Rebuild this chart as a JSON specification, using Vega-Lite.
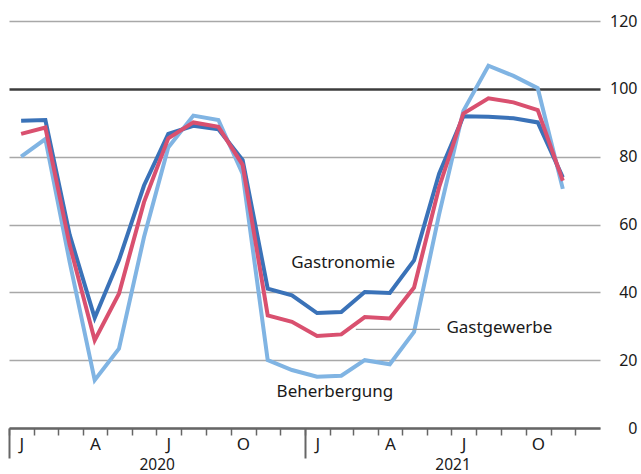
{
  "$schema": "https://vega.github.io/schema/vega-lite/v6.json",
  "width": 591,
  "height": 407,
  "autosize": {"type": "none"},
  "padding": {"left": 9, "top": 21, "right": 41, "bottom": 46},
  "background": "white",
  "config": {"view": {"stroke": null}, "font": "Noto Sans"},
  "datasets": {
    "index": [
      {"date": "2020-01-16", "Gastronomie": 90.6, "Gastgewerbe": 86.7, "Beherbergung": 80.0},
      {"date": "2020-02-15", "Gastronomie": 90.8, "Gastgewerbe": 88.6, "Beherbergung": 85.2},
      {"date": "2020-03-16", "Gastronomie": 57.0, "Gastgewerbe": 54.0, "Beherbergung": 49.0},
      {"date": "2020-04-16", "Gastronomie": 32.5, "Gastgewerbe": 25.9, "Beherbergung": 14.1},
      {"date": "2020-05-16", "Gastronomie": 49.5, "Gastgewerbe": 39.6, "Beherbergung": 23.4},
      {"date": "2020-06-16", "Gastronomie": 71.5, "Gastgewerbe": 66.6, "Beherbergung": 56.3},
      {"date": "2020-07-16", "Gastronomie": 86.7, "Gastgewerbe": 85.4, "Beherbergung": 82.7},
      {"date": "2020-08-16", "Gastronomie": 89.1, "Gastgewerbe": 90.1, "Beherbergung": 92.1},
      {"date": "2020-09-16", "Gastronomie": 88.1, "Gastgewerbe": 88.8, "Beherbergung": 90.8},
      {"date": "2020-10-16", "Gastronomie": 79.0, "Gastgewerbe": 77.6, "Beherbergung": 74.9},
      {"date": "2020-11-16", "Gastronomie": 41.1, "Gastgewerbe": 33.2, "Beherbergung": 20.0},
      {"date": "2020-12-16", "Gastronomie": 39.1, "Gastgewerbe": 31.3, "Beherbergung": 17.1},
      {"date": "2021-01-16", "Gastronomie": 33.9, "Gastgewerbe": 27.1, "Beherbergung": 15.1},
      {"date": "2021-02-15", "Gastronomie": 34.2, "Gastgewerbe": 27.6, "Beherbergung": 15.4},
      {"date": "2021-03-16", "Gastronomie": 40.1, "Gastgewerbe": 32.7, "Beherbergung": 20.0},
      {"date": "2021-04-16", "Gastronomie": 39.8, "Gastgewerbe": 32.3, "Beherbergung": 18.8},
      {"date": "2021-05-16", "Gastronomie": 49.4, "Gastgewerbe": 41.4, "Beherbergung": 28.3},
      {"date": "2021-06-16", "Gastronomie": 75.0, "Gastgewerbe": 71.0, "Beherbergung": 63.0},
      {"date": "2021-07-16", "Gastronomie": 91.9, "Gastgewerbe": 92.7, "Beherbergung": 93.5},
      {"date": "2021-08-16", "Gastronomie": 91.8, "Gastgewerbe": 97.2, "Beherbergung": 106.8},
      {"date": "2021-09-16", "Gastronomie": 91.3, "Gastgewerbe": 96.0, "Beherbergung": 103.8},
      {"date": "2021-10-16", "Gastronomie": 90.1, "Gastgewerbe": 93.7, "Beherbergung": 100.2},
      {"date": "2021-11-16", "Gastronomie": 73.9, "Gastgewerbe": 72.9, "Beherbergung": 70.5}
    ],
    "labels": [
      {"label": "Gastronomie", "date": "2020-12-15", "value": 48.6},
      {"label": "Gastgewerbe", "date": "2021-06-25", "value": 29.6},
      {"label": "Beherbergung", "date": "2020-11-27", "value": 10.7}
    ],
    "leader": [
      {"date": "2021-03-05", "date2": "2021-06-17", "value": 29.1}
    ]
  },
  "layer": [
    {
      "data": {"name": "index"},
      "transform": [{"fold": ["Beherbergung", "Gastronomie", "Gastgewerbe"], "as": ["series", "value"]}],
      "encoding": {
        "x": {
          "field": "date", "type": "temporal",
          "scale": {"type": "utc", "domain": [{"year": 2020, "month": 1, "date": 1, "utc": true}, {"year": 2022, "month": 1, "date": 1, "utc": true}]},
          "axis": {
            "orient": "bottom",
            "title": null,
            "values": [
              {"year": 2020, "month": 1, "date": 1, "utc": true}, {"year": 2020, "month": 2, "date": 1, "utc": true},
              {"year": 2020, "month": 3, "date": 1, "utc": true}, {"year": 2020, "month": 4, "date": 1, "utc": true},
              {"year": 2020, "month": 5, "date": 1, "utc": true}, {"year": 2020, "month": 6, "date": 1, "utc": true},
              {"year": 2020, "month": 7, "date": 1, "utc": true}, {"year": 2020, "month": 8, "date": 1, "utc": true},
              {"year": 2020, "month": 9, "date": 1, "utc": true}, {"year": 2020, "month": 10, "date": 1, "utc": true},
              {"year": 2020, "month": 11, "date": 1, "utc": true}, {"year": 2020, "month": 12, "date": 1, "utc": true},
              {"year": 2021, "month": 1, "date": 1, "utc": true}, {"year": 2021, "month": 2, "date": 1, "utc": true},
              {"year": 2021, "month": 3, "date": 1, "utc": true}, {"year": 2021, "month": 4, "date": 1, "utc": true},
              {"year": 2021, "month": 5, "date": 1, "utc": true}, {"year": 2021, "month": 6, "date": 1, "utc": true},
              {"year": 2021, "month": 7, "date": 1, "utc": true}, {"year": 2021, "month": 8, "date": 1, "utc": true},
              {"year": 2021, "month": 9, "date": 1, "utc": true}, {"year": 2021, "month": 10, "date": 1, "utc": true},
              {"year": 2021, "month": 11, "date": 1, "utc": true}, {"year": 2021, "month": 12, "date": 1, "utc": true}
            ],
            "labelExpr": "['J','','','A','','','J','','','O','',''][utcmonth(datum.value)]",
            "labelOffset": 12.3,
            "labelAlign": "center",
            "labelBaseline": "top",
            "labelPadding": 1.5,
            "labelFontSize": 17,
            "labelColor": "#1a1a1a",
            "labelOverlap": false,
            "labelFlush": false,
            "labelBound": false,
            "tickSize": 7,
            "tickColor": "#666666",
            "tickWidth": 1.5,
            "domain": true,
            "domainColor": "#666666",
            "domainWidth": 2.5,
            "grid": false
          }
        },
        "y": {
          "field": "value", "type": "quantitative",
          "scale": {"domain": [0, 120], "nice": false},
          "axis": {
            "orient": "right", "title": null,
            "values": [0, 20, 40, 60, 80, 100, 120],
            "domain": false, "ticks": false, "grid": true,
            "gridColor": {"condition": {"test": "datum.value === 100", "value": "#3c3c3c"}, "value": "#a8a8a8"},
            "gridWidth": {"condition": {"test": "datum.value === 100", "value": 2.5}, "value": 1.4},
            "labelAlign": "right", "labelPadding": 37, "labelFontSize": 16, "labelColor": "#1a1a1a"
          }
        }
      },
      "layer": [
        {"transform": [{"filter": "datum.series === 'Beherbergung'"}], "mark": {"type": "line", "color": "#80b4e3", "strokeWidth": 4}},
        {"transform": [{"filter": "datum.series === 'Gastronomie'"}], "mark": {"type": "line", "color": "#3a72b8", "strokeWidth": 4}},
        {"transform": [{"filter": "datum.series === 'Gastgewerbe'"}], "mark": {"type": "line", "color": "#d9506f", "strokeWidth": 4}}
      ]
    },
    {
      "data": {"name": "leader"},
      "mark": {"type": "rule", "color": "#9a9a9a", "strokeWidth": 1.3},
      "encoding": {
        "x": {"field": "date", "type": "temporal", "scale": {"type": "utc", "domain": [{"year": 2020, "month": 1, "date": 1, "utc": true}, {"year": 2022, "month": 1, "date": 1, "utc": true}]}, "axis": null},
        "x2": {"field": "date2"},
        "y": {
          "field": "value", "type": "quantitative",
          "scale": {"domain": [0, 120], "nice": false},
          "axis": {
            "orient": "right", "title": null,
            "values": [0, 20, 40, 60, 80, 100, 120],
            "domain": false, "ticks": false, "grid": true,
            "gridColor": {"condition": {"test": "datum.value === 100", "value": "#3c3c3c"}, "value": "#a8a8a8"},
            "gridWidth": {"condition": {"test": "datum.value === 100", "value": 2.5}, "value": 1.4},
            "labelAlign": "right", "labelPadding": 37, "labelFontSize": 16, "labelColor": "#1a1a1a"
          }
        }
      }
    },
    {
      "data": {"name": "labels"},
      "mark": {"type": "text", "align": "left", "baseline": "middle", "fontSize": 17, "color": "#1a1a1a", "font": "Noto Sans"},
      "encoding": {
        "x": {
          "field": "date", "type": "temporal",
          "scale": {"type": "utc", "domain": [{"year": 2020, "month": 1, "date": 1, "utc": true}, {"year": 2022, "month": 1, "date": 1, "utc": true}]},
          "axis": {
            "orient": "bottom",
            "title": null,
            "values": [{"year": 2020, "month": 1, "date": 1, "utc": true}, {"year": 2021, "month": 1, "date": 1, "utc": true}],
            "labelExpr": "utcyear(datum.value)",
            "labelOffset": 147.7,
            "labelAlign": "center",
            "labelBaseline": "top",
            "labelPadding": -1,
            "labelFontSize": 15.5,
            "labelColor": "#1a1a1a",
            "labelOverlap": false,
            "labelFlush": false,
            "labelBound": false,
            "tickSize": 30,
            "tickColor": "#666666",
            "tickWidth": 2,
            "domain": false,
            "grid": false,
            "offset": 0
          }
        },
        "y": {
          "field": "value", "type": "quantitative",
          "scale": {"domain": [0, 120], "nice": false},
          "axis": {
            "orient": "right", "title": null,
            "values": [0, 20, 40, 60, 80, 100, 120],
            "domain": false, "ticks": false, "grid": true,
            "gridColor": {"condition": {"test": "datum.value === 100", "value": "#3c3c3c"}, "value": "#a8a8a8"},
            "gridWidth": {"condition": {"test": "datum.value === 100", "value": 2.5}, "value": 1.4},
            "labelAlign": "right", "labelPadding": 37, "labelFontSize": 16, "labelColor": "#1a1a1a"
          }
        },
        "text": {"field": "label"}
      }
    }
  ],
  "resolve": {"axis": {"x": "independent"}}
}
